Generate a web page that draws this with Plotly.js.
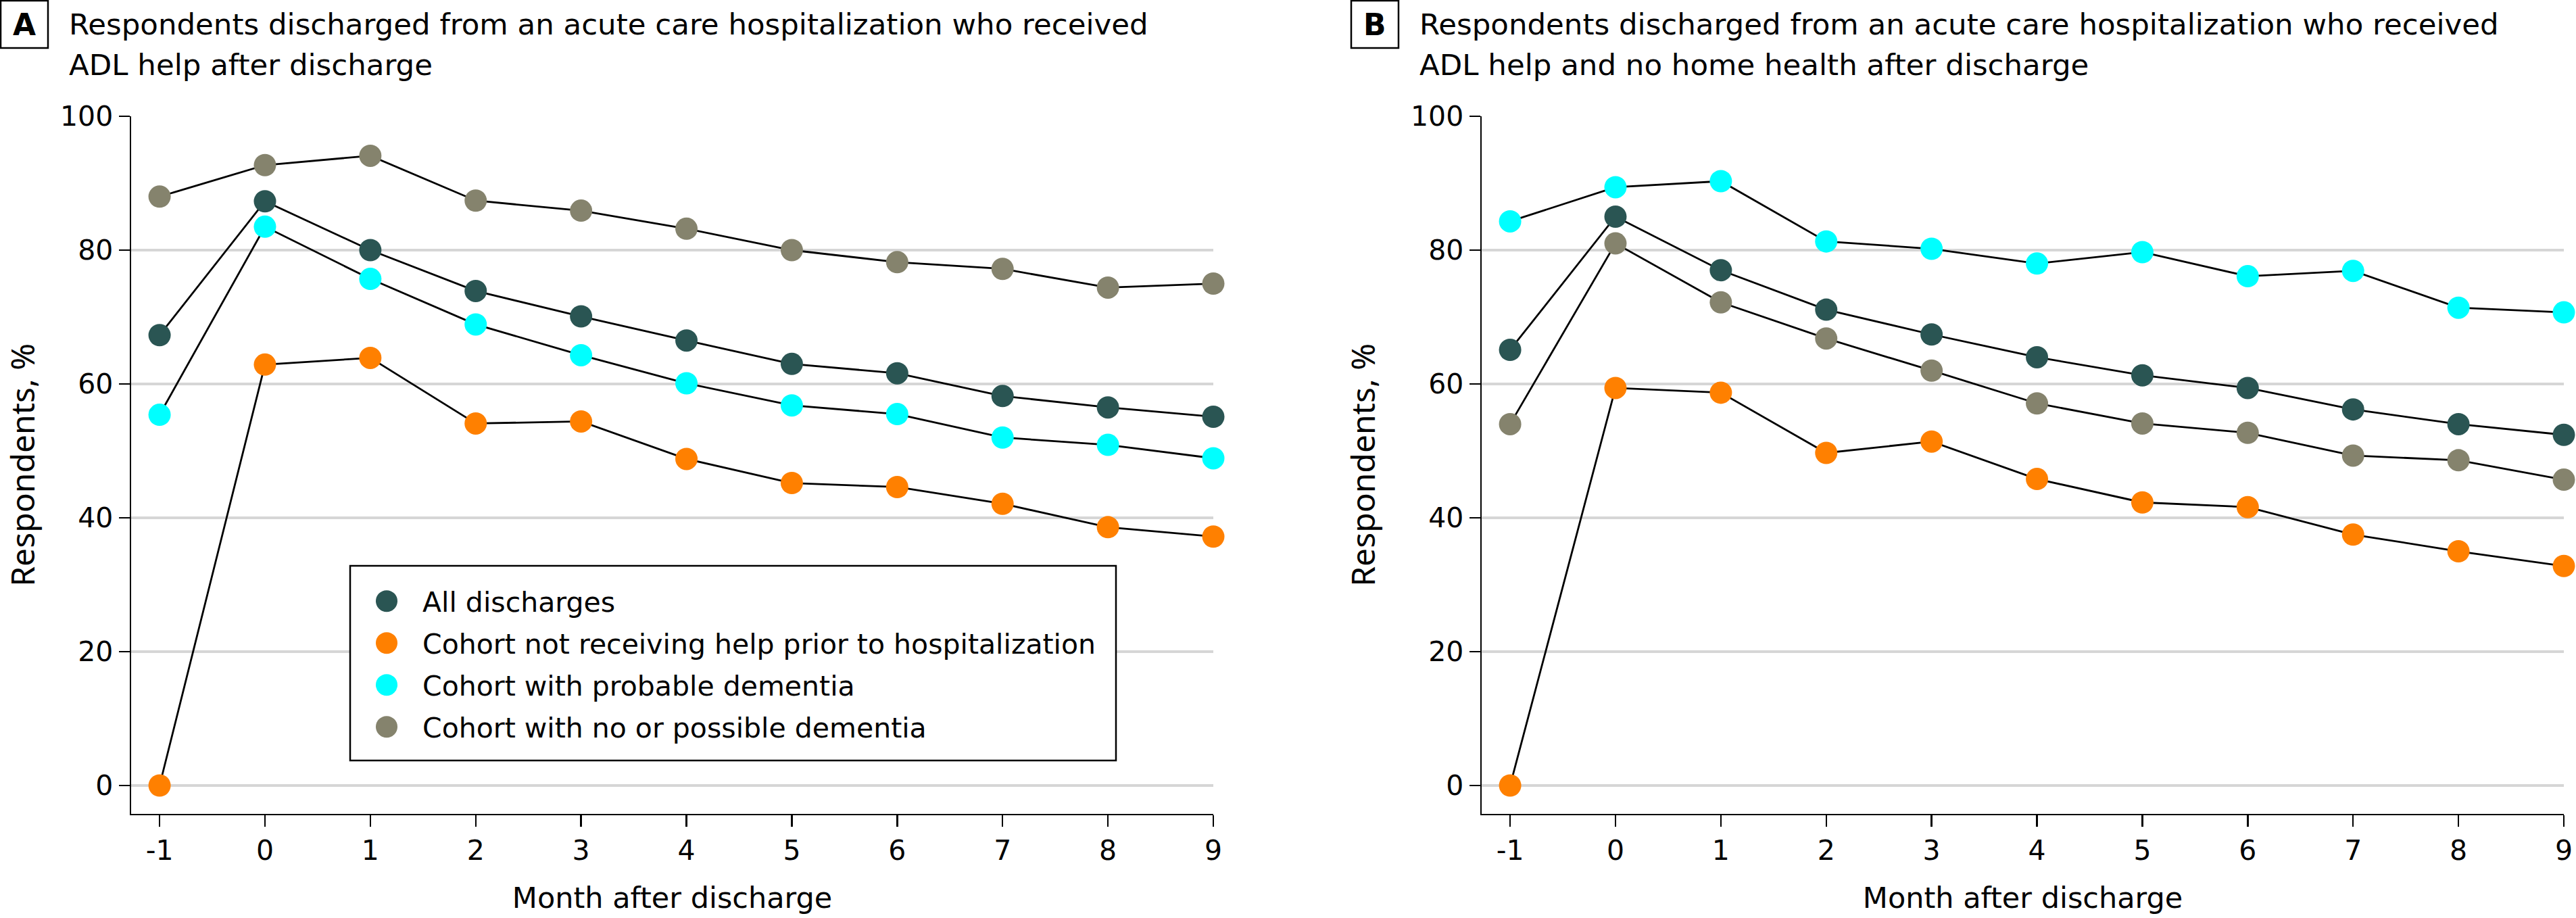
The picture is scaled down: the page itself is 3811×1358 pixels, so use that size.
<!DOCTYPE html>
<html><head><meta charset="utf-8">
<script src="https://cdn.plot.ly/plotly-3.0.1.min.js"></script>
<style>html,body{margin:0;padding:0;background:#fff}#chart{width:3811px;height:1358px}</style>
</head><body><div id="chart"></div>
<script>
// ---- data ----
const months = [-1, 0, 1, 2, 3, 4, 5, 6, 7, 8, 9];
const monthLabels = ['-1', '0', '1', '2', '3', '4', '5', '6', '7', '8', '9'];
const yTicks = [0, 20, 40, 60, 80, 100];
const seriesNames = [
  'All discharges',
  'Cohort not receiving help prior to hospitalization',
  'Cohort with probable dementia',
  'Cohort with no or possible dementia'
];
const A_all      = [67.3, 87.3, 80.0, 73.9, 70.1, 66.5, 63.0, 61.6, 58.2, 56.5, 55.1];
const A_noHelp   = [0,    62.9, 63.9, 54.1, 54.4, 48.8, 45.2, 44.6, 42.1, 38.6, 37.2];
const A_probDem  = [55.4, 83.5, 75.7, 68.9, 64.3, 60.1, 56.8, 55.5, 52.0, 50.9, 48.9];
const A_noDem    = [88.0, 92.7, 94.1, 87.4, 85.9, 83.2, 80.0, 78.2, 77.2, 74.4, 75.0];
const B_all      = [65.1, 85.0, 77.0, 71.1, 67.4, 64.0, 61.3, 59.4, 56.2, 54.0, 52.4];
const B_noHelp   = [0,    59.4, 58.7, 49.7, 51.4, 45.8, 42.3, 41.6, 37.5, 35.0, 32.8];
const B_probDem  = [84.3, 89.4, 90.3, 81.3, 80.2, 78.0, 79.7, 76.1, 76.9, 71.4, 70.7];
const B_noDem    = [54.0, 81.0, 72.2, 66.8, 62.0, 57.1, 54.1, 52.7, 49.3, 48.6, 45.7];
const titleA = ['Respondents discharged from an acute care hospitalization who received', 'ADL help after discharge'];
const titleB = ['Respondents discharged from an acute care hospitalization who received', 'ADL help and no home health after discharge'];
const xTitle = 'Month after discharge';
const yTitle = 'Respondents, %';

// ---- style ----
const colors = ['#2a5553', '#ff8000', '#00ffff', '#85836d'];
const W = 3811, H = 1358;
const px = v => v / W;
const py = v => 1 - v / H;
const FONT = 'DejaVu Sans, Verdana, sans-serif';
const YFONT = 'Noto Sans, Open Sans, sans-serif';

const traces = [];
function addPanel(data, xa, ya, showLegend) {
  data.forEach((ys) => {
    traces.push({x: months, y: ys, xaxis: xa, yaxis: ya, mode: 'lines',
      line: {color: '#000', width: 2.8}, showlegend: false, hoverinfo: 'skip', cliponaxis: false});
  });
  data.forEach((ys, i) => {
    traces.push({x: months, y: ys, xaxis: xa, yaxis: ya, mode: 'markers', name: seriesNames[i],
      marker: {color: colors[i], size: 33}, showlegend: showLegend, cliponaxis: false});
  });
}
addPanel([A_all, A_noHelp, A_probDem, A_noDem], 'x', 'y', true);
addPanel([B_all, B_noHelp, B_probDem, B_noDem], 'x2', 'y2', false);

function xAxis(dom, anchor) {
  return {domain: dom, anchor: anchor, range: [-1.27, 9], tickmode: 'array', tickvals: months, ticktext: monthLabels,
    ticks: 'outside', ticklen: 17, tickwidth: 2.5, tickcolor: '#000', showline: true, linecolor: '#000', linewidth: 2.5,
    showgrid: false, zeroline: false, tickfont: {family: FONT, size: 41, color: '#000'},
    title: {text: xTitle, font: {family: FONT, size: 43, color: '#000'}, standoff: 32}, fixedrange: true};
}
function yAxis(anchor) {
  return {domain: [py(1203.6), py(172)], anchor: anchor, range: [-4.2, 100], tickmode: 'array', tickvals: yTicks,
    ticks: 'outside', ticklen: 16, tickwidth: 2.5, tickcolor: '#000', showline: true, linecolor: '#000', linewidth: 2.5,
    showgrid: true, gridcolor: '#d6d6d6', gridwidth: 4, zeroline: false,
    tickfont: {family: FONT, size: 41, color: '#000'},
    title: {text: yTitle, font: {family: YFONT, size: 48, color: '#000'}, standoff: 37}, fixedrange: true};
}

const annotations = [];
const shapes = [];
function panelHeader(letter, x0, lines) {
  shapes.push({type: 'rect', xref: 'paper', yref: 'paper', x0: px(x0 + 1), x1: px(x0 + 71), y0: py(71), y1: py(1),
    line: {color: '#000', width: 2.5}, fillcolor: 'rgba(0,0,0,0)'});
  annotations.push({xref: 'paper', yref: 'paper', x: px(x0 + 36), y: py(36), xanchor: 'center', yanchor: 'middle',
    text: '<b>' + letter + '</b>', showarrow: false, font: {family: FONT, size: 44, color: '#000'}});
  lines.forEach((t, i) => {
    annotations.push({xref: 'paper', yref: 'paper', x: px(x0 + 100), y: py(36 + 60 * i), xanchor: 'left', yanchor: 'middle',
      text: t, showarrow: false, font: {family: FONT, size: 43.5, color: '#000'}});
  });
}
panelHeader('A', 0, titleA);
panelHeader('B', 1998, titleB);

// legend frame (white box with black border)
shapes.push({type: 'rect', xref: 'paper', yref: 'paper', x0: px(518), x1: px(1651), y0: py(1125), y1: py(837),
  line: {color: '#000', width: 2.5}, fillcolor: '#fff', layer: 'above'});

const LEG_X = 585, LEG_Y = 856, LEG_MARKER_X = 572, LEG_ROW_GAP = 62;
const layout = {
  width: W, height: H, margin: {l: 0, r: 0, t: 0, b: 0}, paper_bgcolor: '#fff', plot_bgcolor: '#fff',
  showlegend: true,
  legend: {x: px(LEG_X), y: py(LEG_Y), xanchor: 'left', yanchor: 'top', bgcolor: 'rgba(0,0,0,0)', borderwidth: 0,
    font: {family: FONT, size: 41, color: '#000'}},
  xaxis: xAxis([px(194), px(1795)], 'y'),
  yaxis: yAxis('x'),
  xaxis2: xAxis([px(2192), px(3793)], 'y2'),
  yaxis2: yAxis('x2'),
  annotations: annotations, shapes: shapes
};

function parseTranslate(el) {
  const t = el.getAttribute('transform') || '';
  const m = /translate\(\s*([-\d.]+)[\s,]*([-\d.]*)\s*\)/.exec(t);
  return [m ? parseFloat(m[1]) : 0, m && m[2] ? parseFloat(m[2]) : 0];
}

Plotly.newPlot('chart', traces, layout, {staticPlot: true, displayModeBar: false}).then(() => {
  const leg = document.querySelector('.legend');
  if (!leg) return;
  // allow the enlarged legend symbols to extend beyond the legend's own clip box
  leg.querySelectorAll('[clip-path]').forEach(el => el.removeAttribute('clip-path'));
  // even row spacing as in the reference legend
  const items = leg.querySelectorAll('g.traces');
  let y0 = null;
  items.forEach((g, i) => {
    const [tx, ty] = parseTranslate(g);
    if (y0 === null) y0 = ty;
    g.setAttribute('transform', 'translate(' + tx + ',' + (y0 + i * LEG_ROW_GAP) + ')');
  });
  // larger legend symbols, placed like the reference
  leg.querySelectorAll('path.scatterpts').forEach(p => {
    const [tx, ty] = parseTranslate(p);
    const r = p.getBoundingClientRect();
    const cx = r.left + r.width / 2;
    p.setAttribute('transform', 'translate(' + (tx + LEG_MARKER_X - cx) + ',' + ty + ') scale(2)');
  });
});
</script></body></html>
